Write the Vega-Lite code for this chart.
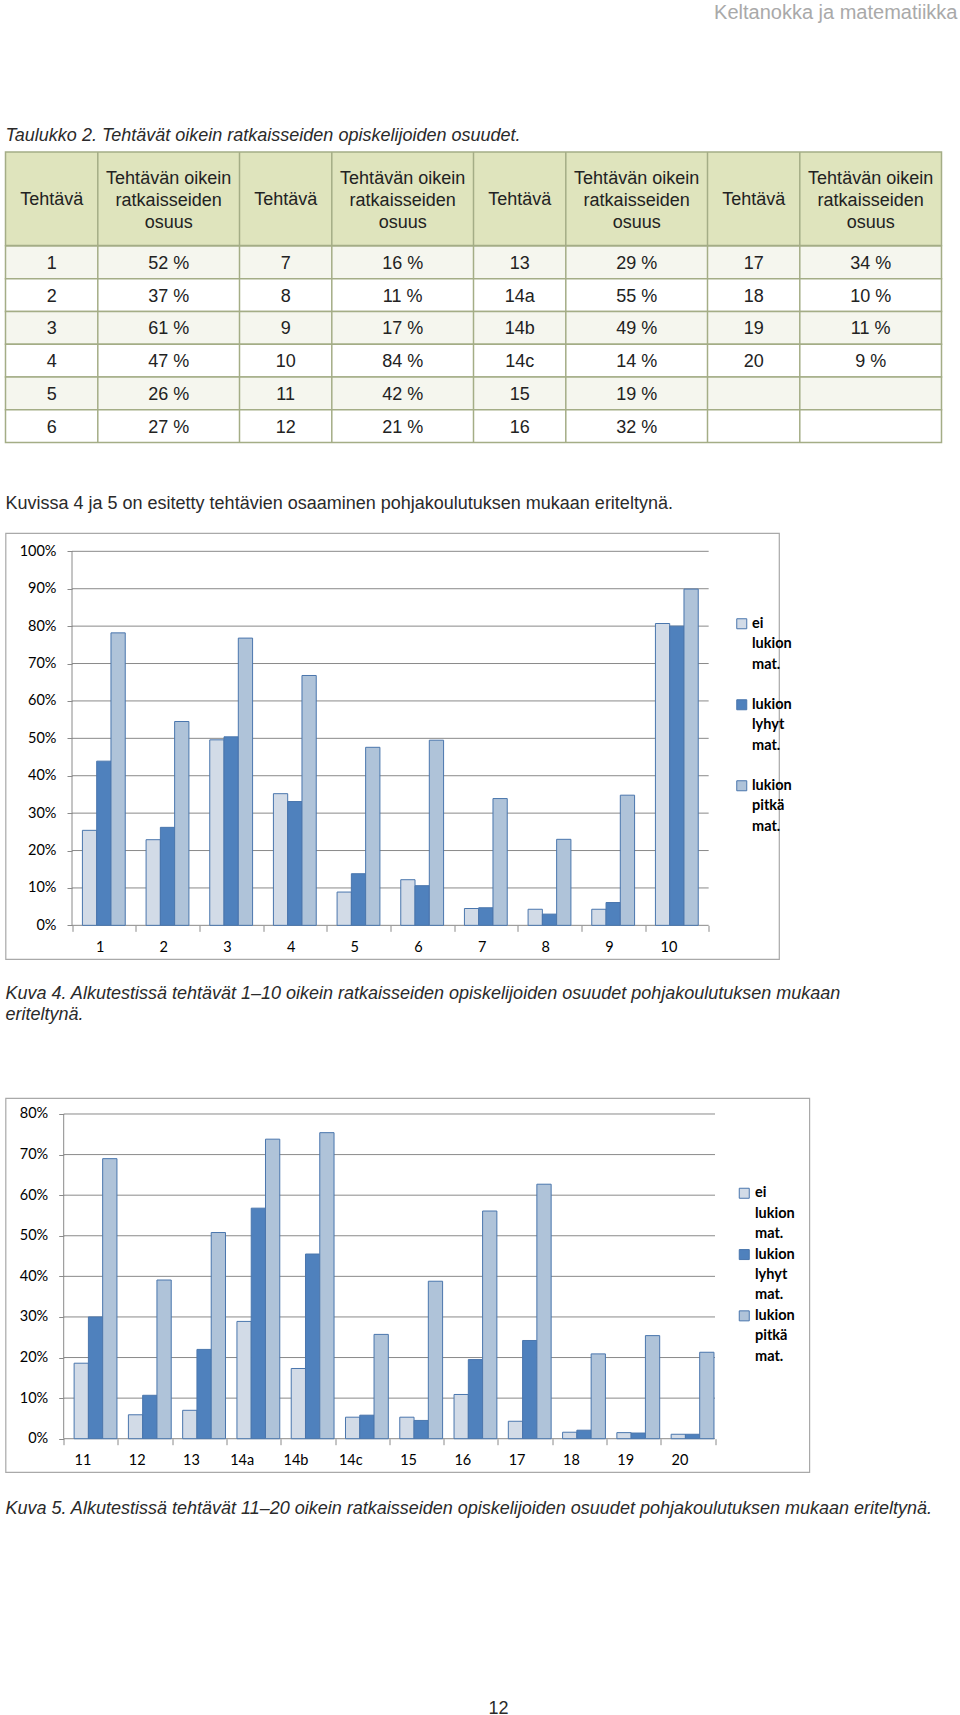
{
  "$schema": "https://vega.github.io/schema/vega-lite/v6.json",
  "padding": {"left": 4.5, "top": 0, "right": 0, "bottom": 0},
  "bounds": "flush",
  "spacing": 0,
  "background": "white",
  "resolve": {"scale": {"color": "independent", "fill": "independent"}, "legend": {"color": "independent", "fill": "independent"}},
  "config": {
    "view": {"stroke": null},
    "font": "Liberation Sans",
    "style": {"guide-label": {"lineHeight": 20.4}}
  },
  "vconcat": [
    {
      "width": 952, "height": 26,
      "data": {"values": [{"t": "Keltanokka ja matematiikka"}]},
      "mark": {"type": "text", "align": "right", "baseline": "middle", "fontSize": 20, "color": "#a9a9a9", "font": "Liberation Sans"},
      "encoding": {"text": {"field": "t"}, "x": {"value": "width"}}
    },
    {"width": 10, "height": 94, "data": {"values": []}, "mark": "point"},
    {
      "width": 936, "height": 31.7,
      "data": {"values": [{"t": "Taulukko 2. Tehtävät oikein ratkaisseiden opiskelijoiden osuudet."}]},
      "mark": {"type": "text", "align": "left", "baseline": "middle", "fontSize": 18, "fontStyle": "italic", "color": "#2a2a2a"},
      "encoding": {"text": {"field": "t"}, "x": {"value": 0}}
    },
    {
      "width": 936, "height": 93.6,
      "layer": [
        {
          "data": {"values": [{"k": "header"}]},
          "mark": {"type": "rect", "fill": "#dfe4bd", "stroke": "#a4ad86", "strokeWidth": 1.5},
          "encoding": {"x": {"value": 0}, "x2": {"value": "width"}, "y": {"value": 0}, "y2": {"value": "height"}}
        },
        {
          "data": {"values": [{"b": 1.5}, {"b": 2.5}, {"b": 3.5}, {"b": 4.5}, {"b": 5.5}, {"b": 6.5}, {"b": 7.5}]},
          "mark": {"type": "rule", "color": "#a4ad86", "strokeWidth": 1.5},
          "encoding": {
            "x": {"field": "b", "type": "quantitative", "axis": null,
              "scale": {"type": "linear", "nice": false, "zero": false,
                "domain": [0.5, 1, 1.5, 2, 2.5, 3, 3.5, 4, 4.5, 5, 5.5, 6, 6.5, 7, 7.5, 8, 8.5],
                "range": [0, 46.15, 92.3, 163.15, 234, 280.15, 326.3, 397.15, 468, 514.15, 560.3, 631.15, 702, 748.15, 794.3, 865.15, 936]}},
            "y": {"value": 0}, "y2": {"value": "height"}
          }
        },
        {
          "data": {"values": [
            {"c": 2, "h": "Tehtävän oikein\nratkaisseiden\nosuus"},
            {"c": 4, "h": "Tehtävän oikein\nratkaisseiden\nosuus"},
            {"c": 6, "h": "Tehtävän oikein\nratkaisseiden\nosuus"},
            {"c": 8, "h": "Tehtävän oikein\nratkaisseiden\nosuus"}
          ]},
          "mark": {"type": "text", "lineBreak": "\n", "lineHeight": 22, "fontSize": 18, "color": "#222222", "baseline": "middle", "dy": -19.5},
          "encoding": {
            "x": {"field": "c", "type": "quantitative", "axis": null,
              "scale": {"type": "linear", "nice": false, "zero": false,
                "domain": [0.5, 1, 1.5, 2, 2.5, 3, 3.5, 4, 4.5, 5, 5.5, 6, 6.5, 7, 7.5, 8, 8.5],
                "range": [0, 46.15, 92.3, 163.15, 234, 280.15, 326.3, 397.15, 468, 514.15, 560.3, 631.15, 702, 748.15, 794.3, 865.15, 936]}},
            "text": {"field": "h"}
          }
        },
        {
          "data": {"values": [
            {"c": 1, "h": "Tehtävä"}, {"c": 3, "h": "Tehtävä"}, {"c": 5, "h": "Tehtävä"}, {"c": 7, "h": "Tehtävä"}
          ]},
          "mark": {"type": "text", "fontSize": 18, "color": "#222222", "baseline": "middle", "dy": 1.5},
          "encoding": {
            "x": {"field": "c", "type": "quantitative", "axis": null},
            "text": {"field": "h"}
          }
        }
      ]
    },
    {
      "width": 936, "height": 196.4,
      "layer": [
        {
          "data": {"values": [{"r": 1}, {"r": 2}, {"r": 3}, {"r": 4}, {"r": 5}, {"r": 6}]},
          "mark": {"type": "rect", "stroke": "#a4ad86", "strokeWidth": 1.5},
          "encoding": {
            "y": {"field": "r", "type": "ordinal", "axis": null, "scale": {"paddingInner": 0, "paddingOuter": 0}},
            "x": {"value": 0}, "x2": {"value": "width"},
            "fill": {"field": "r", "type": "ordinal", "legend": null,
              "scale": {"domain": [1, 2, 3, 4, 5, 6], "range": ["#f5f6ee", "#ffffff", "#f5f6ee", "#ffffff", "#f5f6ee", "#ffffff"]}}
          }
        },
        {
          "data": {"values": [{"b": 1.5}, {"b": 2.5}, {"b": 3.5}, {"b": 4.5}, {"b": 5.5}, {"b": 6.5}, {"b": 7.5}]},
          "mark": {"type": "rule", "color": "#a4ad86", "strokeWidth": 1.5},
          "encoding": {
            "x": {"field": "b", "type": "quantitative", "axis": null,
              "scale": {"type": "linear", "nice": false, "zero": false,
                "domain": [0.5, 1, 1.5, 2, 2.5, 3, 3.5, 4, 4.5, 5, 5.5, 6, 6.5, 7, 7.5, 8, 8.5],
                "range": [0, 46.15, 92.3, 163.15, 234, 280.15, 326.3, 397.15, 468, 514.15, 560.3, 631.15, 702, 748.15, 794.3, 865.15, 936]}},
            "y": {"value": 0}, "y2": {"value": "height"}
          }
        },
        {
          "data": {"values": [
            {"r": 1, "c": 1, "v": "1"}, {"r": 1, "c": 2, "v": "52 %"}, {"r": 1, "c": 3, "v": "7"}, {"r": 1, "c": 4, "v": "16 %"}, {"r": 1, "c": 5, "v": "13"}, {"r": 1, "c": 6, "v": "29 %"}, {"r": 1, "c": 7, "v": "17"}, {"r": 1, "c": 8, "v": "34 %"},
            {"r": 2, "c": 1, "v": "2"}, {"r": 2, "c": 2, "v": "37 %"}, {"r": 2, "c": 3, "v": "8"}, {"r": 2, "c": 4, "v": "11 %"}, {"r": 2, "c": 5, "v": "14a"}, {"r": 2, "c": 6, "v": "55 %"}, {"r": 2, "c": 7, "v": "18"}, {"r": 2, "c": 8, "v": "10 %"},
            {"r": 3, "c": 1, "v": "3"}, {"r": 3, "c": 2, "v": "61 %"}, {"r": 3, "c": 3, "v": "9"}, {"r": 3, "c": 4, "v": "17 %"}, {"r": 3, "c": 5, "v": "14b"}, {"r": 3, "c": 6, "v": "49 %"}, {"r": 3, "c": 7, "v": "19"}, {"r": 3, "c": 8, "v": "11 %"},
            {"r": 4, "c": 1, "v": "4"}, {"r": 4, "c": 2, "v": "47 %"}, {"r": 4, "c": 3, "v": "10"}, {"r": 4, "c": 4, "v": "84 %"}, {"r": 4, "c": 5, "v": "14c"}, {"r": 4, "c": 6, "v": "14 %"}, {"r": 4, "c": 7, "v": "20"}, {"r": 4, "c": 8, "v": "9 %"},
            {"r": 5, "c": 1, "v": "5"}, {"r": 5, "c": 2, "v": "26 %"}, {"r": 5, "c": 3, "v": "11"}, {"r": 5, "c": 4, "v": "42 %"}, {"r": 5, "c": 5, "v": "15"}, {"r": 5, "c": 6, "v": "19 %"},
            {"r": 6, "c": 1, "v": "6"}, {"r": 6, "c": 2, "v": "27 %"}, {"r": 6, "c": 3, "v": "12"}, {"r": 6, "c": 4, "v": "21 %"}, {"r": 6, "c": 5, "v": "16"}, {"r": 6, "c": 6, "v": "32 %"}
          ]},
          "mark": {"type": "text", "fontSize": 18, "color": "#222222", "baseline": "middle", "dy": 1.5},
          "encoding": {
            "x": {"field": "c", "type": "quantitative", "axis": null,
              "scale": {"type": "linear", "nice": false, "zero": false,
                "domain": [0.5, 1, 1.5, 2, 2.5, 3, 3.5, 4, 4.5, 5, 5.5, 6, 6.5, 7, 7.5, 8, 8.5],
                "range": [0, 46.15, 92.3, 163.15, 234, 280.15, 326.3, 397.15, 468, 514.15, 560.3, 631.15, 702, 748.15, 794.3, 865.15, 936]}},
            "y": {"field": "r", "type": "ordinal", "axis": null},
            "text": {"field": "v"}
          }
        }
      ]
    },
    {"width": 10, "height": 31.3, "data": {"values": []}, "mark": "point"},
    {
      "width": 936, "height": 58,
      "data": {"values": [{"t": "Kuvissa 4 ja 5 on esitetty tehtävien osaaminen pohjakoulutuksen mukaan eriteltynä."}]},
      "mark": {"type": "text", "align": "left", "baseline": "middle", "fontSize": 18, "color": "#2a2a2a"},
      "encoding": {"text": {"field": "t"}, "x": {"value": 0}}
    },
    {
      "width": 773.5, "height": 426,
      "view": {"stroke": "#a9a9a9", "strokeWidth": 1.2},
      "layer": [
        {
          "data": {"values": [{"g": 0}, {"g": 10}, {"g": 20}, {"g": 30}, {"g": 40}, {"g": 50}, {"g": 60}, {"g": 70}, {"g": 80}, {"g": 90}, {"g": 100}]},
          "mark": {"type": "rule", "color": "#8a8a8a", "strokeWidth": 1},
          "encoding": {
            "y": {"field": "g", "type": "quantitative", "scale": {"domain": [-9.0, 104.9], "nice": false, "zero": false}},
            "x": {"datum": "1", "bandPosition": 0,
              "scale": {"domain": ["1", "2", "3", "4", "5", "6", "7", "8", "9", "10"], "range": [66.5, 703.17], "paddingInner": 0, "paddingOuter": 0}},
            "x2": {"datum": "10", "bandPosition": 1}
          }
        },
        {
          "data": {"values": [{"g": 0}]},
          "mark": {"type": "rule", "color": "#8a8a8a", "strokeWidth": 1},
          "encoding": {
            "y": {"datum": 0, "scale": {"domain": [-9.0, 104.9], "nice": false, "zero": false}},
            "y2": {"datum": 100},
            "x": {"datum": "1", "bandPosition": 0}
          }
        },
        {
          "data": {"values": [
            {"t": "1", "s": "ei lukion mat.", "v": 25.4}, {"t": "1", "s": "lukion lyhyt mat.", "v": 43.9}, {"t": "1", "s": "lukion pitkä mat.", "v": 78.2},
            {"t": "2", "s": "ei lukion mat.", "v": 22.9}, {"t": "2", "s": "lukion lyhyt mat.", "v": 26.2}, {"t": "2", "s": "lukion pitkä mat.", "v": 54.5},
            {"t": "3", "s": "ei lukion mat.", "v": 49.6}, {"t": "3", "s": "lukion lyhyt mat.", "v": 50.4}, {"t": "3", "s": "lukion pitkä mat.", "v": 76.8},
            {"t": "4", "s": "ei lukion mat.", "v": 35.2}, {"t": "4", "s": "lukion lyhyt mat.", "v": 33.1}, {"t": "4", "s": "lukion pitkä mat.", "v": 66.8},
            {"t": "5", "s": "ei lukion mat.", "v": 8.9}, {"t": "5", "s": "lukion lyhyt mat.", "v": 13.8}, {"t": "5", "s": "lukion pitkä mat.", "v": 47.6},
            {"t": "6", "s": "ei lukion mat.", "v": 12.2}, {"t": "6", "s": "lukion lyhyt mat.", "v": 10.6}, {"t": "6", "s": "lukion pitkä mat.", "v": 49.5},
            {"t": "7", "s": "ei lukion mat.", "v": 4.5}, {"t": "7", "s": "lukion lyhyt mat.", "v": 4.7}, {"t": "7", "s": "lukion pitkä mat.", "v": 33.9},
            {"t": "8", "s": "ei lukion mat.", "v": 4.3}, {"t": "8", "s": "lukion lyhyt mat.", "v": 3.0}, {"t": "8", "s": "lukion pitkä mat.", "v": 23.0},
            {"t": "9", "s": "ei lukion mat.", "v": 4.3}, {"t": "9", "s": "lukion lyhyt mat.", "v": 6.1}, {"t": "9", "s": "lukion pitkä mat.", "v": 34.8},
            {"t": "10", "s": "ei lukion mat.", "v": 80.7}, {"t": "10", "s": "lukion lyhyt mat.", "v": 80.0}, {"t": "10", "s": "lukion pitkä mat.", "v": 89.9}
          ]},
          "mark": {"type": "bar", "stroke": "#4a76ad", "strokeWidth": 1},
          "encoding": {
            "x": {"field": "t", "type": "nominal",
              "scale": {"domain": ["1", "2", "3", "4", "5", "6", "7", "8", "9", "10"], "range": [66.5, 703.17], "paddingInner": 0, "paddingOuter": 0},
              "axis": {"title": null, "domain": false, "grid": false, "tickBand": "extent", "tickSize": 6, "tickColor": "#8a8a8a", "labelAngle": 0, "labelFont": "Lato", "labelFontSize": 14.5, "labelColor": "#000000", "labelPadding": 16, "labelBaseline": "middle", "offset": -33.67}},
            "xOffset": {"field": "s", "type": "nominal", "scale": {"domain": ["ei lukion mat.", "lukion lyhyt mat.", "lukion pitkä mat."], "paddingInner": 0, "paddingOuter": 0.73}},
            "y": {"field": "v", "type": "quantitative",
              "scale": {"domain": [-9.0, 104.9], "nice": false, "zero": false},
              "axis": {"title": null, "values": [0, 10, 20, 30, 40, 50, 60, 70, 80, 90, 100], "labelExpr": "datum.value + '%'", "domain": false, "grid": false, "tickSize": 5, "tickColor": "#8a8a8a", "labelPadding": 11, "labelFont": "Lato", "labelFontSize": 14.5, "labelColor": "#000000", "offset": -66.5}},
            "color": {"field": "s", "type": "nominal",
              "scale": {"domain": ["ei lukion mat.", "lukion lyhyt mat.", "lukion pitkä mat."], "range": ["#d2dbe7", "#4f81bd", "#afc3d9"]},
              "legend": {"title": null, "orient": "none", "legendX": 729, "legendY": 83.5, "padding": 0, "labelExpr": "split(datum.label, ' ')", "labelFont": "Lato", "labelFontWeight": "bold", "labelFontSize": 14.5, "labelColor": "#000000", "labelLimit": 0, "labelBaseline": "middle", "labelOffset": 3, "symbolType": "square", "symbolSize": 100, "symbolStrokeColor": "#4a76ad", "symbolStrokeWidth": 1, "rowPadding": 25}}
          }
        }
      ]
    },
    {
      "width": 936, "height": 91,
      "data": {"values": [{"t": "Kuva 4. Alkutestissä tehtävät 1–10 oikein ratkaisseiden opiskelijoiden osuudet pohjakoulutuksen mukaan\neriteltynä."}]},
      "mark": {"type": "text", "align": "left", "baseline": "middle", "fontSize": 18, "fontStyle": "italic", "color": "#2a2a2a", "lineBreak": "\n", "lineHeight": 21.6, "dy": -10.8},
      "encoding": {"text": {"field": "t"}, "x": {"value": 0}}
    },
    {"width": 10, "height": 48, "data": {"values": []}, "mark": "point"},
    {
      "width": 803.8, "height": 374,
      "view": {"stroke": "#a9a9a9", "strokeWidth": 1.2},
      "layer": [
        {
          "data": {"values": [{"g": 0}, {"g": 10}, {"g": 20}, {"g": 30}, {"g": 40}, {"g": 50}, {"g": 60}, {"g": 70}, {"g": 80}]},
          "mark": {"type": "rule", "color": "#8a8a8a", "strokeWidth": 1},
          "encoding": {
            "y": {"field": "g", "type": "quantitative", "scale": {"domain": [-8.2, 83.94], "nice": false, "zero": false}},
            "x": {"datum": "11", "bandPosition": 0,
              "scale": {"domain": ["11", "12", "13", "14a", "14b", "14c", "15", "16", "17", "18", "19", "20"], "range": [58.2, 709.5], "paddingInner": 0, "paddingOuter": 0}},
            "x2": {"datum": "20", "bandPosition": 1}
          }
        },
        {
          "data": {"values": [{"g": 0}]},
          "mark": {"type": "rule", "color": "#8a8a8a", "strokeWidth": 1},
          "encoding": {
            "y": {"datum": 0, "scale": {"domain": [-8.2, 83.94], "nice": false, "zero": false}},
            "y2": {"datum": 80},
            "x": {"datum": "11", "bandPosition": 0}
          }
        },
        {
          "data": {"values": [
            {"t": "11", "s": "ei lukion mat.", "v": 18.6}, {"t": "11", "s": "lukion lyhyt mat.", "v": 30.0}, {"t": "11", "s": "lukion pitkä mat.", "v": 69.0},
            {"t": "12", "s": "ei lukion mat.", "v": 5.9}, {"t": "12", "s": "lukion lyhyt mat.", "v": 10.7}, {"t": "12", "s": "lukion pitkä mat.", "v": 39.1},
            {"t": "13", "s": "ei lukion mat.", "v": 7.0}, {"t": "13", "s": "lukion lyhyt mat.", "v": 22.0}, {"t": "13", "s": "lukion pitkä mat.", "v": 50.8},
            {"t": "14a", "s": "ei lukion mat.", "v": 28.9}, {"t": "14a", "s": "lukion lyhyt mat.", "v": 56.8}, {"t": "14a", "s": "lukion pitkä mat.", "v": 73.8},
            {"t": "14b", "s": "ei lukion mat.", "v": 17.3}, {"t": "14b", "s": "lukion lyhyt mat.", "v": 45.5}, {"t": "14b", "s": "lukion pitkä mat.", "v": 75.4},
            {"t": "14c", "s": "ei lukion mat.", "v": 5.3}, {"t": "14c", "s": "lukion lyhyt mat.", "v": 5.8}, {"t": "14c", "s": "lukion pitkä mat.", "v": 25.7},
            {"t": "15", "s": "ei lukion mat.", "v": 5.3}, {"t": "15", "s": "lukion lyhyt mat.", "v": 4.5}, {"t": "15", "s": "lukion pitkä mat.", "v": 38.8},
            {"t": "16", "s": "ei lukion mat.", "v": 10.9}, {"t": "16", "s": "lukion lyhyt mat.", "v": 19.5}, {"t": "16", "s": "lukion pitkä mat.", "v": 56.1},
            {"t": "17", "s": "ei lukion mat.", "v": 4.3}, {"t": "17", "s": "lukion lyhyt mat.", "v": 24.2}, {"t": "17", "s": "lukion pitkä mat.", "v": 62.7},
            {"t": "18", "s": "ei lukion mat.", "v": 1.6}, {"t": "18", "s": "lukion lyhyt mat.", "v": 2.1}, {"t": "18", "s": "lukion pitkä mat.", "v": 20.9},
            {"t": "19", "s": "ei lukion mat.", "v": 1.5}, {"t": "19", "s": "lukion lyhyt mat.", "v": 1.4}, {"t": "19", "s": "lukion pitkä mat.", "v": 25.4},
            {"t": "20", "s": "ei lukion mat.", "v": 1.1}, {"t": "20", "s": "lukion lyhyt mat.", "v": 1.1}, {"t": "20", "s": "lukion pitkä mat.", "v": 21.3}
          ]},
          "mark": {"type": "bar", "stroke": "#4a76ad", "strokeWidth": 1},
          "encoding": {
            "x": {"field": "t", "type": "nominal",
              "scale": {"domain": ["11", "12", "13", "14a", "14b", "14c", "15", "16", "17", "18", "19", "20"], "range": [58.2, 709.5], "paddingInner": 0, "paddingOuter": 0},
              "axis": {"title": null, "domain": false, "grid": false, "tickBand": "extent", "tickSize": 6, "tickColor": "#8a8a8a", "labelAngle": 0, "labelFont": "Lato", "labelFontSize": 14.5, "labelColor": "#000000", "labelPadding": 16, "labelBaseline": "middle", "offset": -33.3}},
            "xOffset": {"field": "s", "type": "nominal", "scale": {"domain": ["ei lukion mat.", "lukion lyhyt mat.", "lukion pitkä mat."], "paddingInner": 0, "paddingOuter": 0.73}},
            "y": {"field": "v", "type": "quantitative",
              "scale": {"domain": [-8.2, 83.94], "nice": false, "zero": false},
              "axis": {"title": null, "values": [0, 10, 20, 30, 40, 50, 60, 70, 80], "labelExpr": "datum.value + '%'", "domain": false, "grid": false, "tickSize": 5, "tickColor": "#8a8a8a", "labelPadding": 11, "labelFont": "Lato", "labelFontSize": 14.5, "labelColor": "#000000", "offset": -58.2}},
            "color": {"field": "s", "type": "nominal",
              "scale": {"domain": ["ei lukion mat.", "lukion lyhyt mat.", "lukion pitkä mat."], "range": ["#d2dbe7", "#4f81bd", "#afc3d9"]},
              "legend": {"title": null, "orient": "none", "legendX": 731.5, "legendY": 88, "padding": 0, "labelExpr": "split(datum.label, ' ')", "labelFont": "Lato", "labelFontWeight": "bold", "labelFontSize": 14.5, "labelColor": "#000000", "labelLimit": 0, "labelBaseline": "middle", "labelOffset": 3.5, "symbolType": "square", "symbolSize": 100, "symbolStrokeColor": "#4a76ad", "symbolStrokeWidth": 1, "rowPadding": 5.3}}
          }
        }
      ]
    },
    {
      "width": 936, "height": 73.4,
      "data": {"values": [{"t": "Kuva 5. Alkutestissä tehtävät 11–20 oikein ratkaisseiden opiskelijoiden osuudet pohjakoulutuksen mukaan eriteltynä."}]},
      "mark": {"type": "text", "align": "left", "baseline": "middle", "fontSize": 18, "fontStyle": "italic", "color": "#2a2a2a"},
      "encoding": {"text": {"field": "t"}, "x": {"value": 0}}
    },
    {"width": 10, "height": 153.6, "data": {"values": []}, "mark": "point"},
    {
      "width": 493, "height": 18,
      "data": {"values": [{"t": "12"}]},
      "mark": {"type": "text", "align": "center", "baseline": "middle", "fontSize": 18, "color": "#2a2a2a"},
      "encoding": {"text": {"field": "t"}, "x": {"value": "width"}}
    }
  ]
}
